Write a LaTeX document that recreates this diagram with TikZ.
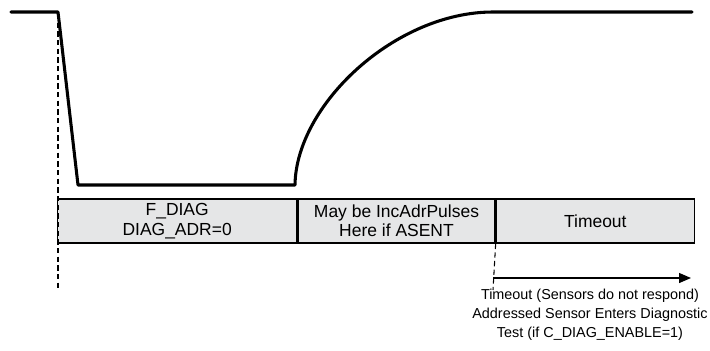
\documentclass[tikz,border=0pt]{standalone}
\usepackage{fontspec}
\setmainfont{Liberation Sans}
\usetikzlibrary{arrows.meta}
\definecolor{barfill}{RGB}{229,230,231}
\begin{document}
\begin{tikzpicture}[x=0.75pt,y=-0.75pt,
  wave/.style={line width=2.3pt,line join=round,line cap=round},
  bar/.style={draw,line width=1pt,fill=barfill,anchor=west,minimum height=33pt,inner sep=0pt,align=center,
     font=\fontsize{13.1pt}{14.6pt}\selectfont},
  guide/.style={line width=0.8pt,dash pattern=on 4pt off 2.5pt},
  note/.style={align=center,inner sep=0pt,font=\fontsize{10.8pt}{14.4pt}\selectfont}]
\useasboundingbox (0,0) rectangle (710,350);
% bars
\node[bar,minimum width=179.25pt] (b1) at (57,221) {F\_DIAG\\DIAG\_ADR=0};
\node[bar,minimum width=147.75pt] (b2) at (b1.east) {May be IncAdrPulses\\Here if ASENT};
\node[bar,minimum width=148.5pt] (b3) at (b2.east) {Timeout};
% waveform
\coordinate (w0) at (11,12);
\coordinate (w1) at (58,12);
\coordinate (w2) at (78,185);
\coordinate (w3) at (295,185);
\coordinate (w4) at (493,12);
\coordinate (w5) at (692,12);
\draw[wave] (w0) -- (w1) -- (w2) -- (w3) .. controls (296,105) and (395,12) .. (w4) -- (w5);
% guides
\coordinate (g1t) at (58,14);
\coordinate (g1b) at (58,290);
\draw[guide] (g1t) -- (g1b);
\coordinate (g2b) at (493,290);
\draw[guide] (b2.south east) -- (g2b);
% timeout arrow
\coordinate (a0) at (493,278);
\coordinate (a1) at (691,278);
\draw[line width=1pt,-{Triangle[length=9pt,width=7.5pt]}] (a0) -- (a1);
\node[note] (n) at (590,315) {Timeout (Sensors do not respond)\\Addressed Sensor Enters Diagnostic\\Test (if C\_DIAG\_ENABLE=1)};
\end{tikzpicture}
\end{document}
